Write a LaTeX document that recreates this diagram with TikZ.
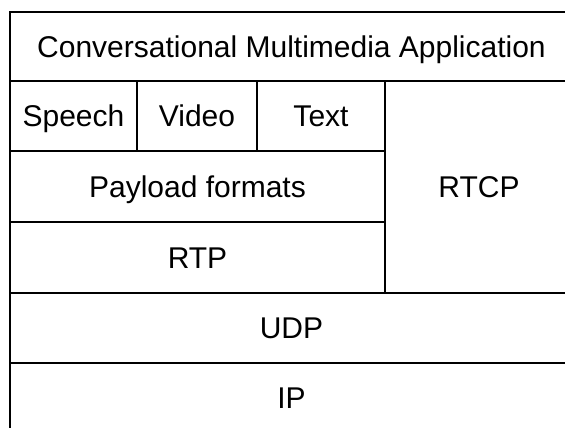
\documentclass[tikz,border=0pt]{standalone}
\usepackage{fontspec}
\setmainfont{Liberation Sans}
\begin{document}
\begin{tikzpicture}[x=1pt,y=1pt,
  layer/.style={draw, line width=2.3pt, rectangle, inner sep=0pt, anchor=center,
    font=\fontsize{30}{36}\selectfont, text height=21.5pt, text depth=0pt}]
\useasboundingbox (0,0) rectangle (565,-428);
\clip (0,0) rectangle (565,-428);
\node[layer, minimum width=563pt, minimum height=69pt] (app) at (291.5,-46.5) {Conversational Multimedia Application};
\node[layer, minimum width=127pt, minimum height=70pt] (speech) at (73.5,-116) {Speech};
\node[layer, minimum width=120pt, minimum height=70pt] (video) at (197,-116) {Video};
\node[layer, minimum width=128pt, minimum height=70pt] (text) at (321,-116) {Text};
\node[layer, minimum width=375pt, minimum height=71pt] (payload) at (197.5,-186.5) {Payload formats};
\node[layer, minimum width=375pt, minimum height=71pt] (rtp) at (197.5,-257.5) {RTP};
\node[layer, minimum width=188pt, minimum height=212pt] (rtcp) at (479,-187) {RTCP};
\node[layer, minimum width=563pt, minimum height=70pt] (udp) at (291.5,-328) {UDP};
\node[layer, minimum width=563pt, minimum height=70pt] (ip) at (291.5,-398) {IP};
\end{tikzpicture}
\end{document}
